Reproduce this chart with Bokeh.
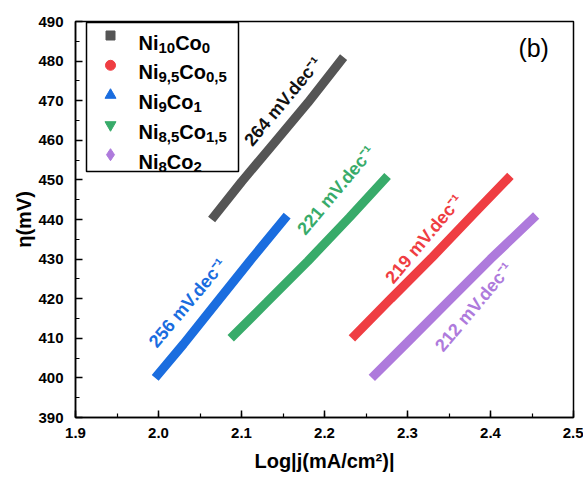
from bokeh.plotting import figure
from bokeh.models import Label, Range1d, SingleIntervalTicker, PrintfTickFormatter
from bokeh.embed import file_html
from bokeh.resources import INLINE

# ---- data ----
gray_x = [2.064, 2.100, 2.140, 2.180, 2.223]
gray_y = [440.0, 449.5, 459.5, 469.5, 481.0]
red_x = [2.233, 2.280, 2.330, 2.380, 2.424]
red_y = [410.0, 420.0, 430.5, 441.5, 451.0]
blue_x = [1.996, 2.030, 2.070, 2.110, 2.155]
blue_y = [400.0, 408.5, 419.0, 429.5, 441.0]
green_x = [2.087, 2.130, 2.180, 2.230, 2.276]
green_y = [410.0, 419.0, 429.5, 440.5, 451.0]
purple_x = [2.257, 2.300, 2.350, 2.400, 2.455]
purple_y = [400.0, 409.0, 419.5, 430.0, 441.0]

legend_subs = [("10", "0"), ("9,5", "0,5"), ("9", "1"), ("8,5", "1,5"), ("8", "2")]
slopes = ["264", "219", "256", "221", "212"]
x_ticks_range = (1.9, 2.5)
y_ticks_range = (390, 490)
x_title = "Log|j(mA/cm²)|"
y_title = "η(mV)"

colors = ["#555555", "#ef3d42", "#1a6ddf", "#38ab6a", "#ae7adc"]
text_colors = ["#111111", "#ef3d42", "#1a6ddf", "#38ab6a", "#ae7adc"]
markers = ["square", "circle", "triangle", "inverted_triangle", "diamond"]
marker_sizes = [9, 10, 11, 11, 12]
series = [(gray_x, gray_y), (red_x, red_y), (blue_x, blue_y), (green_x, green_y), (purple_x, purple_y)]

FONT = "Liberation Sans"

p = figure(width=583, height=477, output_backend="svg", toolbar_location=None,
           x_range=Range1d(*x_ticks_range), y_range=Range1d(*y_ticks_range),
           min_border_left=75, min_border_right=10, min_border_top=21, min_border_bottom=60)
p.xgrid.visible = False
p.ygrid.visible = False
p.outline_line_color = "black"
p.outline_line_width = 1.5
p.background_fill_color = "white"
p.border_fill_color = "white"

for ax, interval in ((p.xaxis[0], 0.1), (p.yaxis[0], 10)):
    ax.ticker = SingleIntervalTicker(interval=interval, num_minor_ticks=2)
    ax.axis_line_width = 1.5
    ax.axis_line_color = "black"
    ax.major_tick_in = 7
    ax.major_tick_out = 0
    ax.minor_tick_in = 4
    ax.minor_tick_out = 0
    ax.major_tick_line_width = 1.5
    ax.minor_tick_line_width = 1.2
    ax.major_tick_line_color = "black"
    ax.minor_tick_line_color = "black"
    ax.major_label_text_font = FONT
    ax.major_label_text_font_style = "bold"
    ax.major_label_text_font_size = "15px"
    ax.major_label_text_color = "black"
    ax.axis_label_text_font = FONT
    ax.axis_label_text_font_style = "bold"
    ax.axis_label_text_font_size = "20px"
    ax.axis_label_text_color = "black"

p.xaxis[0].formatter = PrintfTickFormatter(format="%.1f")
p.xaxis[0].major_label_standoff = 10
p.xaxis[0].axis_label = x_title
p.xaxis[0].axis_label_standoff = 9
p.yaxis[0].major_label_standoff = 12
p.yaxis[0].axis_label = y_title
p.yaxis[0].axis_label_standoff = 0

# data lines (dense markers in the original -> thick lines)
for (xs, ys), c in zip(series, colors):
    p.line(xs, ys, line_color=c, line_width=9, line_cap="butt")

# slope annotations
ann_pos = [(2.150, 469.8), (2.320, 435.1), (2.035, 418.9), (2.214, 447.4), (2.380, 417.9)]
for (ax_, ay_), s, c in zip(ann_pos, slopes, text_colors):
    p.add_layout(Label(x=ax_, y=ay_, text=f"{s} mV.dec⁻¹", angle=50, angle_units="deg",
                       text_align="center", text_baseline="middle", text_color=c,
                       text_font=FONT, text_font_style="bold", text_font_size="18px"))

# "(b)"
p.add_layout(Label(x=2.452, y=483.3, text="(b)", text_align="center", text_baseline="middle",
                   text_font=FONT, text_font_size="25px", text_color="black"))

# ---- helpers for placement (reference pixel -> data) ----
def px2x(px):
    return 1.9 + (px - 77) / 830.0

def py2y(py):
    return 490 - (py - 22) / 3.96

# ---- manual legend ----
p.quad(left=px2x(88), right=px2x(240), top=py2y(23), bottom=py2y(172),
       fill_color="white", line_color="black", line_width=1.5)

W = {"N": 0.722, "i": 0.278, "C": 0.722, "o": 0.611, ",": 0.278}
for d in "0123456789":
    W[d] = 0.556

def tw(s, size):
    return sum(W[ch] for ch in s) * size

MAIN, SUB = 20, 15
for k, ((sa, sb), c, m, ms) in enumerate(zip(legend_subs, colors, markers, marker_sizes)):
    cy = 36 + 29.8 * k
    p.scatter([px2x(112)], [py2y(cy)], marker=m, size=ms, fill_color=c, line_color=c)
    base_y = py2y(cy + 7)
    x0 = px2x(140)
    off = 0.0
    for txt, size, dy in (("Ni", MAIN, 0), (sa, SUB, -5), ("Co", MAIN, 0), (sb, SUB, -5)):
        p.add_layout(Label(x=x0, y=base_y, x_offset=off, y_offset=dy, text=txt,
                           text_align="left", text_baseline="alphabetic",
                           text_font=FONT, text_font_style="bold",
                           text_font_size=f"{size}px", text_color="black"))
        off += tw(txt, size)

open("out.html", "w").write(file_html(p, INLINE))
